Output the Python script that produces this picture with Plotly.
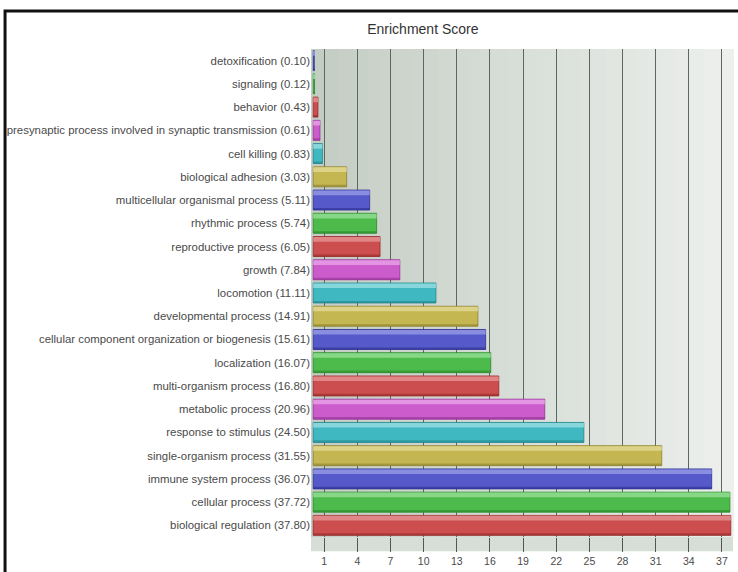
import plotly.graph_objects as go

# GO biological process terms and their enrichment scores
terms = [
    "detoxification", "signaling", "behavior",
    "presynaptic process involved in synaptic transmission", "cell killing",
    "biological adhesion", "multicellular organismal process", "rhythmic process",
    "reproductive process", "growth", "locomotion", "developmental process",
    "cellular component organization or biogenesis", "localization",
    "multi-organism process", "metabolic process", "response to stimulus",
    "single-organism process", "immune system process", "cellular process",
    "biological regulation",
]
scores = [0.10, 0.12, 0.43, 0.61, 0.83, 3.03, 5.11, 5.74, 6.05, 7.84, 11.11,
          14.91, 15.61, 16.07, 16.80, 20.96, 24.50, 31.55, 36.07, 37.72, 37.80]
tick_values = [1, 4, 7, 10, 13, 16, 19, 22, 25, 28, 31, 34, 37]

# base / highlight / shadow shades, cycling through the bars
base_colors = ["#5559c9", "#4cbb4c", "#cc4e4e", "#cc5ccc", "#40b8c2", "#c4b650"]
light_colors = ["#8a8ee0", "#86d886", "#e08686", "#e394e3", "#86d6dc", "#dcd288"]
dark_colors = ["#2d3190", "#2a882a", "#962a2a", "#963096", "#22868e", "#8e8230"]

labels = [f"{t} ({s:.2f})" for t, s in zip(terms, scores)]
n = len(labels)
base = [base_colors[i % 6] for i in range(n)]
light = [light_colors[i % 6] for i in range(n)]
dark = [dark_colors[i % 6] for i in range(n)]

fig = go.Figure()
fig.add_trace(go.Bar(
    x=scores, y=labels, orientation="h", width=0.86,
    marker=dict(color=base, line=dict(color=dark, width=0.8)),
    hoverinfo="x+y",
))
# lighter upper face of each bar
fig.add_trace(go.Bar(
    x=scores, y=labels, orientation="h", width=0.2, offset=-0.41,
    marker=dict(color=light, line=dict(width=0)), hoverinfo="skip",
))
# darker lower edge of each bar
fig.add_trace(go.Bar(
    x=scores, y=labels, orientation="h", width=0.09, offset=0.34,
    marker=dict(color=dark, line=dict(width=0), opacity=0.6), hoverinfo="skip",
))

# plot-area background: gray-green wall lightening towards the right
shapes = []
steps = 30
c0 = (196, 205, 196)
c1 = (236, 239, 236)
for i in range(steps):
    t = i / (steps - 1)
    col = tuple(round(a + (b - a) * t) for a, b in zip(c0, c1))
    shapes.append(dict(
        type="rect", xref="paper", yref="paper",
        x0=i / steps, x1=(i + 1) / steps + 0.002, y0=0, y1=1,
        fillcolor=f"rgb{col}", line=dict(width=0), layer="below",
    ))
# floor strip under the bars
shapes.append(dict(
    type="rect", xref="paper", yref="paper", x0=0, x1=1, y0=-0.029, y1=0,
    fillcolor="#d7ddd7", line=dict(width=0), layer="below",
))
# outer frame
shapes.append(dict(
    type="rect", xref="paper", yref="paper", x0=-0.725, x1=1.2, y0=-0.2, y1=1.078,
    fillcolor="rgba(0,0,0,0)", line=dict(color="#111111", width=3), layer="above",
))

fig.update_layout(
    width=738, height=572,
    margin=dict(l=311, r=5, t=49, b=31),
    paper_bgcolor="white", plot_bgcolor="#dfe4df",
    barmode="overlay", bargap=0.14, showlegend=False,
    font=dict(family="Liberation Sans, Arial, sans-serif", color="#4a4a4a"),
    title=dict(text="Enrichment Score", x=0.573, xref="container", xanchor="center",
               y=0.949, yref="container", yanchor="middle",
               font=dict(size=14, color="#333333")),
    shapes=shapes,
)
fig.update_xaxes(
    range=[-0.2, 38.0], tickvals=tick_values, ticktext=[str(v) for v in tick_values],
    showgrid=True, gridcolor="#5f665f", gridwidth=1.4,
    ticks="outside", ticklen=14, tickcolor="#555555", tickwidth=1,
    tickfont=dict(size=10.5, color="#4a4a4a"),
    zeroline=False, showline=False,
)
fig.update_yaxes(
    autorange="reversed", showgrid=False, ticks="",
    tickfont=dict(size=11.4, color="#4a4a4a"), showline=False,
)

fig.write_html("out.html")
